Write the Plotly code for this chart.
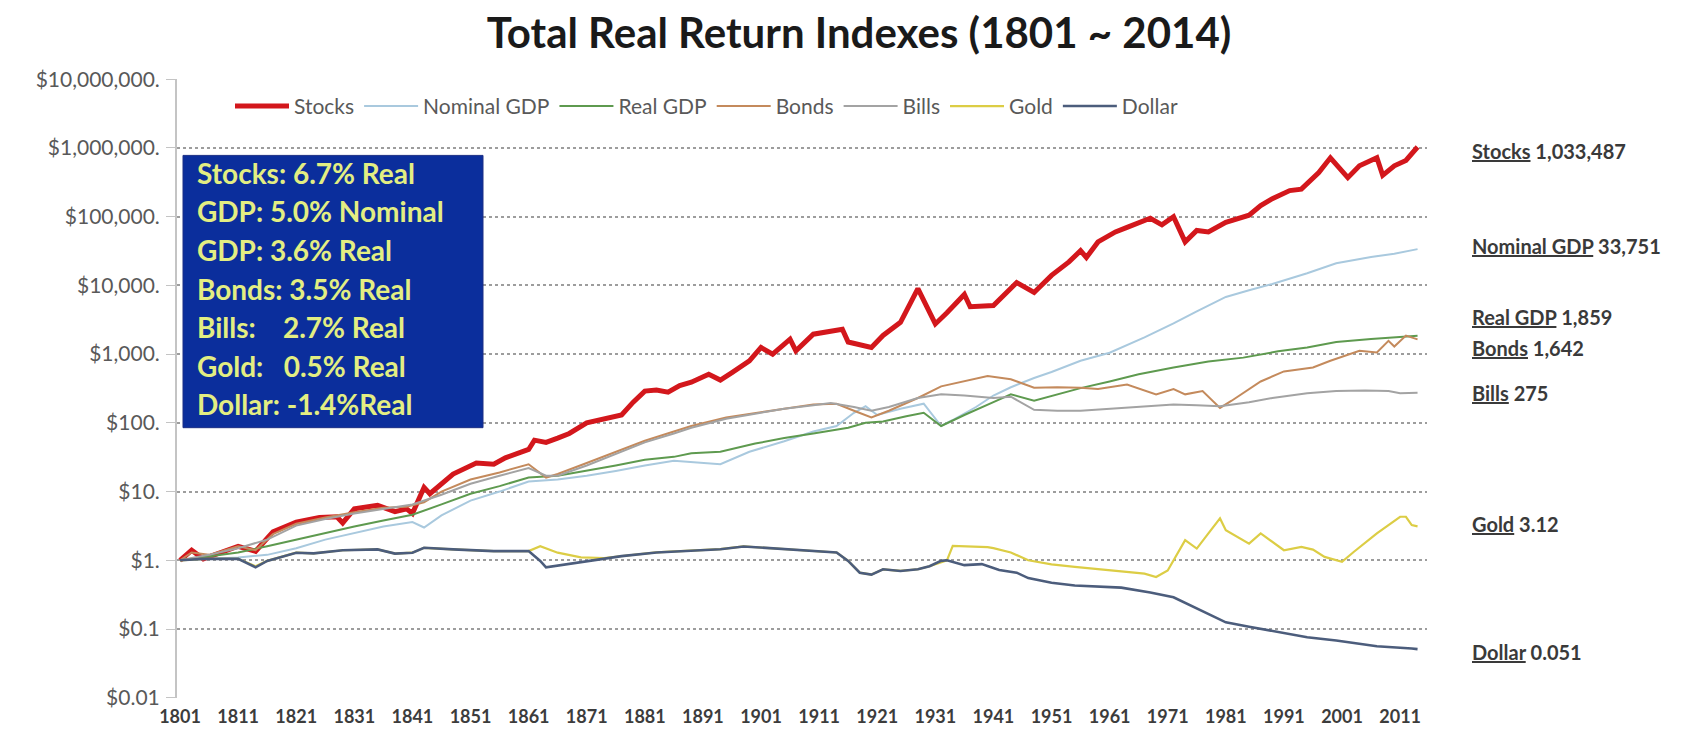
import plotly.graph_objects as go

title_text = "Total Real Return Indexes (1801 ~ 2014)"

stocks_years = [1801, 1803, 1805, 1808, 1811, 1814, 1817, 1821, 1825, 1828, 1829, 1831, 1835, 1838, 1840, 1841,
                1843, 1844, 1845, 1848, 1852, 1855, 1857, 1861, 1862, 1864, 1866, 1868, 1871, 1873, 1875, 1877,
                1879, 1881, 1883, 1885, 1887, 1889, 1892, 1894, 1896, 1899, 1901, 1903, 1906, 1907, 1910, 1915,
                1916, 1920, 1922, 1925, 1928, 1931, 1933, 1936, 1937, 1941, 1945, 1948, 1951, 1954, 1956, 1957,
                1959, 1962, 1964, 1968, 1970, 1972, 1974, 1976, 1978, 1981, 1985, 1987, 1989, 1992, 1994, 1997,
                1999, 2002, 2004, 2007, 2008, 2010, 2012, 2014]
stocks_values = [1.0, 1.4, 1.05, 1.3, 1.6, 1.35, 2.6, 3.6, 4.2, 4.3, 3.5, 5.6, 6.3, 5.1, 5.6, 4.8,
                 11.5, 9.3, 11, 18, 26, 25, 31, 41, 56, 52, 60, 70, 100, 110, 120, 130,
                 200, 290, 300, 280, 350, 390, 510, 420, 540, 800, 1250, 1000, 1650, 1120, 1950, 2300,
                 1500, 1250, 1870, 2900, 9000, 2750, 4000, 7400, 4900, 5100, 11000, 7900, 14000, 22000, 32000, 25500,
                 43000, 60000, 70000, 95000, 76000, 100000, 43000, 63000, 60000, 83000, 105000, 145000, 183000, 240000, 252000, 440000,
                 720000, 370000, 550000, 720000, 400000, 550000, 660000, 1033487]

nominal_gdp_years = [1801, 1806, 1811, 1816, 1821, 1826, 1831, 1836, 1841, 1843, 1846, 1851, 1856, 1861, 1866, 1871,
                     1876, 1881, 1886, 1889, 1894, 1899, 1905, 1910, 1914, 1917, 1919, 1921, 1925, 1929, 1932, 1934,
                     1938, 1941, 1944, 1948, 1951, 1956, 1961, 1967, 1972, 1976, 1981, 1985, 1989, 1995, 2000, 2006,
                     2010, 2014]
nominal_gdp_values = [1.0, 1.05, 1.1, 1.2, 1.5, 2.0, 2.5, 3.1, 3.6, 3.0, 4.5, 7.4, 10, 14, 15, 17,
                      20, 24, 28, 27, 25, 38, 54, 75, 90, 140, 175, 130, 160, 190, 90, 110,
                      170, 250, 330, 450, 550, 800, 1050, 1750, 2800, 4200, 6800, 8500, 10500, 15000, 21000, 26000,
                      29000, 33751]

real_gdp_years = [1801, 1806, 1811, 1816, 1821, 1826, 1831, 1836, 1841, 1846, 1851, 1856, 1861, 1866, 1871, 1876,
                  1881, 1886, 1889, 1894, 1900, 1905, 1910, 1916, 1919, 1922, 1926, 1929, 1932, 1936, 1941, 1944,
                  1948, 1952, 1956, 1961, 1966, 1972, 1978, 1984, 1990, 1995, 2000, 2006, 2010, 2014]
real_gdp_values = [1.0, 1.15, 1.3, 1.6, 2.0, 2.5, 3.1, 3.8, 4.6, 6.5, 9.3, 12, 16, 17, 20, 24,
                   29, 32, 36, 38, 50, 60, 70, 85, 100, 105, 125, 140, 90, 130, 200, 260,
                   210, 260, 320, 400, 510, 640, 780, 890, 1100, 1250, 1500, 1660, 1750, 1859]

bonds_years = [1801, 1803, 1806, 1811, 1814, 1817, 1821, 1826, 1831, 1836, 1840, 1843, 1846, 1851, 1856, 1861,
               1864, 1866, 1871, 1876, 1881, 1886, 1889, 1895, 1900, 1905, 1910, 1914, 1917, 1920, 1923, 1928,
               1932, 1936, 1940, 1944, 1948, 1952, 1956, 1959, 1964, 1969, 1972, 1974, 1977, 1980, 1982, 1987,
               1991, 1996, 1999, 2004, 2007, 2009, 2010, 2012, 2014]
bonds_values = [1.0, 1.3, 1.2, 1.6, 1.4, 2.4, 3.4, 4.2, 5.0, 5.8, 6.0, 7.0, 10, 15, 19, 25,
                16, 18, 26, 38, 55, 75, 90, 120, 140, 160, 185, 190, 150, 120, 150, 230,
                340, 400, 480, 430, 325, 330, 325, 310, 360, 260, 310, 260, 290, 165, 210, 400,
                560, 640, 800, 1120, 1060, 1560, 1290, 1860, 1642]

bills_years = [1801, 1806, 1811, 1816, 1821, 1826, 1831, 1836, 1841, 1846, 1851, 1856, 1861, 1864, 1866, 1871,
               1876, 1881, 1886, 1889, 1895, 1900, 1905, 1910, 1913, 1917, 1920, 1923, 1928, 1932, 1936, 1941,
               1944, 1948, 1952, 1956, 1961, 1967, 1972, 1976, 1980, 1985, 1989, 1995, 2000, 2005, 2009, 2011,
               2014]
bills_values = [1.0, 1.2, 1.5, 2.0, 3.2, 4.0, 4.8, 5.6, 6.5, 9, 13, 17, 22, 17, 17, 24,
                35, 52, 70, 85, 115, 135, 160, 180, 195, 170, 150, 170, 230, 260, 250, 230,
                240, 155, 150, 150, 160, 175, 185, 180, 175, 200, 230, 270, 290, 295, 290, 270,
                275]

gold_years = [1801, 1805, 1811, 1814, 1816, 1821, 1824, 1829, 1835, 1838, 1841, 1843, 1848, 1855, 1861, 1863,
              1866, 1870, 1874, 1879, 1883, 1888, 1894, 1898, 1905, 1911, 1914, 1916, 1918, 1920, 1922, 1925,
              1928, 1930, 1933, 1934, 1940, 1941, 1944, 1947, 1951, 1955, 1962, 1967, 1969, 1971, 1974, 1976,
              1978, 1980, 1981, 1985, 1987, 1991, 1994, 1996, 1998, 2001, 2003, 2007, 2011, 2012, 2013, 2014]
gold_values = [1.0, 1.05, 1.05, 0.82, 0.98, 1.29, 1.26, 1.4, 1.44, 1.25, 1.29, 1.52, 1.44, 1.36, 1.36, 1.6,
               1.29, 1.1, 1.08, 1.2, 1.3, 1.37, 1.45, 1.59, 1.45, 1.37, 1.3, 0.98, 0.66, 0.62, 0.74, 0.70,
               0.74, 0.82, 1.0, 1.62, 1.55, 1.5, 1.3, 1.0, 0.87, 0.80, 0.71, 0.64, 0.57, 0.71, 1.96, 1.48,
               2.46, 4.07, 2.74, 1.75, 2.46, 1.40, 1.57, 1.43, 1.12, 0.95, 1.32, 2.46, 4.3, 4.3, 3.25, 3.12]

dollar_years = [1801, 1805, 1811, 1814, 1816, 1821, 1824, 1829, 1835, 1838, 1841, 1843, 1848, 1855, 1861, 1863,
                1864, 1868, 1872, 1877, 1883, 1888, 1894, 1898, 1905, 1911, 1914, 1916, 1918, 1920, 1922, 1925,
                1928, 1930, 1932, 1933, 1936, 1939, 1942, 1945, 1947, 1951, 1955, 1963, 1968, 1972, 1976, 1981,
                1985, 1991, 1995, 2000, 2007, 2013, 2014]
dollar_values = [1.0, 1.05, 1.05, 0.79, 0.98, 1.29, 1.26, 1.4, 1.44, 1.25, 1.29, 1.52, 1.44, 1.36, 1.36, 0.98,
                 0.79, 0.88, 0.98, 1.15, 1.3, 1.37, 1.45, 1.59, 1.45, 1.37, 1.3, 0.98, 0.66, 0.62, 0.74, 0.70,
                 0.74, 0.82, 0.98, 1.0, 0.85, 0.88, 0.72, 0.66, 0.55, 0.47, 0.43, 0.40, 0.34, 0.29, 0.20, 0.125,
                 0.108, 0.087, 0.076, 0.068, 0.056, 0.052, 0.051]

series_names = ["Stocks", "Nominal GDP", "Real GDP", "Bonds", "Bills", "Gold", "Dollar"]
series_colors = ["#d3171c", "#a9c9de", "#5e9a4f", "#c48a5c", "#a3a3a3", "#dccd45", "#4c5d7c"]
series_widths = [5, 2, 2, 2, 2, 2.2, 2.6]
series_data = [(stocks_years, stocks_values), (nominal_gdp_years, nominal_gdp_values),
               (real_gdp_years, real_gdp_values), (bonds_years, bonds_values),
               (bills_years, bills_values), (gold_years, gold_values), (dollar_years, dollar_values)]

end_labels = ["<u>Stocks</u> 1,033,487", "<u>Nominal GDP</u> 33,751", "<u>Real GDP</u> 1,859",
              "<u>Bonds</u> 1,642", "<u>Bills</u> 275", "<u>Gold</u> 3.12", "<u>Dollar</u> 0.051"]

box_lines = ["Stocks: 6.7% Real", "GDP: 5.0% Nominal", "GDP: 3.6% Real", "Bonds: 3.5% Real",
             "Bills:\u00a0\u00a0\u00a0 2.7% Real", "Gold:\u00a0\u00a0 0.5% Real", "Dollar: -1.4%Real"]

y_tick_vals = [0.01, 0.1, 1, 10, 100, 1000, 10000, 100000, 1000000, 10000000]
y_tick_text = ["$0.01", "$0.1", "$1.", "$10.", "$100.", "$1,000.", "$10,000.", "$100,000.",
               "$1,000,000.", "$10,000,000."]
x_tick_vals = [1801, 1811, 1821, 1831, 1841, 1851, 1861, 1871, 1881, 1891, 1901, 1911,
               1921, 1931, 1941, 1951, 1961, 1971, 1981, 1991, 2001, 2011]
x_tick_text = ["1801", "1811", "1821", "1831", "1841", "1851", "1861", "1871", "1881", "1891", "1901",
               "1911", "1921", "1931", "1941", "1951", "1961", "1971", "1981", "1991", "2001", "2011"]

FONT = "Lato"
W, H = 1702, 731
L, R, T, B = 169, 283, 71, 28
plot_w = W - L - R
plot_h = H - T - B
y_lo, y_hi = -2.004, 7.004
x_lo = 1800.48
x_hi = x_lo + plot_w / 5.81

# pixel layout positions (page coordinates) for decorations
end_label_px = 1462
end_label_py = [145, 242, 314, 346, 392, 525, 656]
box_text_py = [167, 206, 246, 285, 324, 364, 403]


def px_to_paper(px):
    return (px - L) / plot_w


def py_to_paper(py):
    return 1 - (py - T) / plot_h


fig = go.Figure()
for (xs, ys), name, color, w in zip(series_data, series_names, series_colors, series_widths):
    fig.add_trace(go.Scatter(x=xs, y=ys, mode="lines", name=name,
                             line=dict(color=color, width=w), hoverinfo="skip"))

annotations = []
for txt, py in zip(end_labels, end_label_py):
    annotations.append(dict(x=px_to_paper(end_label_px), xref="paper", y=py_to_paper(py), yref="paper",
                            text=txt, showarrow=False, xanchor="left", yanchor="middle",
                            font=dict(family=FONT, size=20, color="#3a3a3a", weight="bold")))

for txt, py in zip(box_lines, box_text_py):
    annotations.append(dict(x=px_to_paper(187), xref="paper", y=py_to_paper(py), yref="paper",
                            text=txt, showarrow=False, xanchor="left", yanchor="middle",
                            font=dict(family=FONT, size=28, color="#e3ee82", weight="bold")))

shapes = [dict(type="rect", xref="paper", yref="paper",
               x0=px_to_paper(175), x1=px_to_paper(475),
               y0=py_to_paper(427), y1=py_to_paper(149),
               fillcolor="#0b2e9c", line=dict(color="#1c2f85", width=1), layer="above")]

fig.update_layout(
    width=W, height=H,
    margin=dict(l=L, r=R, t=T, b=B),
    paper_bgcolor="white", plot_bgcolor="white",
    title=dict(text=title_text, x=0.5, xanchor="center", y=1 - 25 / H, yanchor="middle",
               font=dict(family=FONT, size=42, color="#1a1a1a", weight="bold")),
    showlegend=True,
    legend=dict(orientation="h", x=px_to_paper(222), xanchor="left", y=py_to_paper(99),
                yanchor="middle", bgcolor="rgba(0,0,0,0)", font=dict(family=FONT, size=21, color="#595959"),
                itemwidth=54, tracegroupgap=0),
    xaxis=dict(range=[x_lo, x_hi], tickvals=x_tick_vals, ticktext=x_tick_text, showgrid=False,
               zeroline=False, showline=False, ticks="", ticklabelstandoff=6,
               tickfont=dict(family=FONT, size=18, color="#3c3c3c", weight="bold")),
    xaxis2=dict(range=[x_lo, x_hi], overlaying="x", anchor="free", side="bottom",
                position=(0 - y_lo) / (y_hi - y_lo), showline=True, linecolor="#a9a9bb", linewidth=2,
                ticks="outside", ticklen=8, tickwidth=1.5, tickcolor="#a9a9bb", tickvals=x_tick_vals,
                showticklabels=False, showgrid=False, zeroline=False),
    yaxis=dict(type="log", range=[y_lo, y_hi], tickvals=y_tick_vals, ticktext=y_tick_text,
               showgrid=True, gridcolor="#9d9d9d", griddash="dot", gridwidth=1.5,
               showline=True, linecolor="#c4c4c4", linewidth=2, ticks="outside", ticklen=9,
               tickcolor="#c4c4c4", ticklabelstandoff=2, zeroline=False,
               tickfont=dict(family=FONT, size=21, color="#595959")),
    annotations=annotations,
    shapes=shapes,
)

fig.write_html("out.html")
